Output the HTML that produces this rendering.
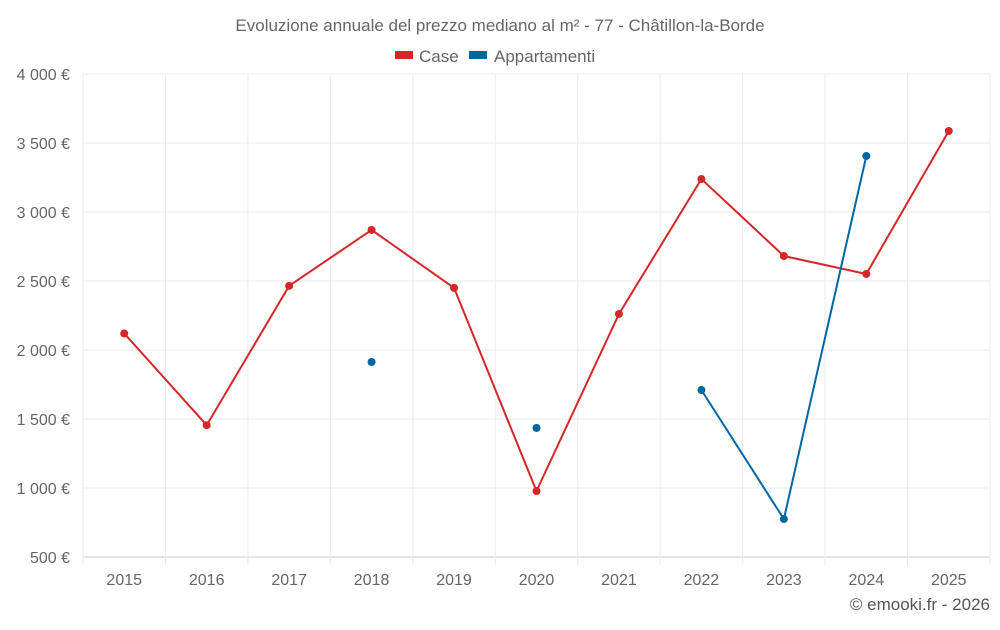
<!DOCTYPE html>
<html><head><meta charset="utf-8"><style>
body{margin:0;background:#fff;font-family:"Liberation Sans",sans-serif;}
svg text{font-family:"Liberation Sans",sans-serif;}
</style></head><body>
<svg id="chart" width="1000" height="625" xmlns="http://www.w3.org/2000/svg">
<text x="500" y="31" text-anchor="middle" font-size="17" fill="#666">Evoluzione annuale del prezzo mediano al m² - 77 - Châtillon-la-Borde</text>
<g>
<rect x="395" y="51" width="18" height="8" fill="#d62728"/>
<text x="419" y="62" font-size="17" fill="#666">Case</text>
<rect x="469" y="51" width="18" height="8" fill="#0066a0"/>
<text x="494" y="62" font-size="17" fill="#666">Appartamenti</text>
</g>
<g id="grid"></g><g id="axes"></g><g id="series"></g>
<text x="990" y="610" text-anchor="end" font-size="17" fill="#555">© emooki.fr - 2026</text>
</svg>
<script>
const years=[2015,2016,2017,2018,2019,2020,2021,2022,2023,2024,2025];
const caseValues=[2120,1455,2465,2870,2450,978,2261,3239,2681,2551,3587];
const apptValues=[null,null,null,1913,null,1435,null,1710,775,3406,null];
const yTicks=[500,1000,1500,2000,2500,3000,3500,4000];
const NS="http://www.w3.org/2000/svg";
const L=83,R=990,T=74,B=557,yMin=500,yMax=4000;
const step=(R-L)/years.length;
const x=i=>L+step*(i+0.5);
const y=v=>B-(v-yMin)/(yMax-yMin)*(B-T);
function mk(t,a,p){const e=document.createElementNS(NS,t);for(const k in a)e.setAttribute(k,a[k]);p.appendChild(e);return e;}
const grid=document.getElementById('grid'),axes=document.getElementById('axes'),ser=document.getElementById('series');
yTicks.forEach(v=>{
 const l=mk('line',{x1:L,x2:R,y1:y(v),y2:y(v),stroke:v===yMin?'#ccc':'#ebebeb'},grid);
 
 
 const t=mk('text',{x:70,y:y(v)+6,'text-anchor':'end','font-size':16,fill:'#666'},axes);
 t.textContent=v.toLocaleString('fr-FR').replace(/\s/g,' ')+' €';
 
 
});
for(let i=0;i<=years.length;i++){
 const l=mk('line',{x1:L+step*i,x2:L+step*i,y1:T,y2:B+8,stroke:'#ebebeb'},grid);
 
 
}
years.forEach((yr,i)=>{
 const t=mk('text',{x:x(i),y:585,'text-anchor':'middle','font-size':16,fill:'#666'},axes);
 t.textContent=yr;
 
 
});
function drawSeries(vals,color,name){
 let seg=[];const segs=[];
 vals.forEach((v,i)=>{if(v==null){if(seg.length)segs.push(seg);seg=[];}else seg.push([x(i),y(v)]);});
 if(seg.length)segs.push(seg);
 segs.forEach(s=>{if(s.length>1){
  const p=mk('polyline',{points:s.map(q=>q.join(',')).join(' '),fill:'none',stroke:color,'stroke-width':2},ser);
  
  
 }});
 vals.forEach((v,i)=>{if(v!=null){
  const c=mk('circle',{cx:x(i),cy:y(v),r:4,fill:color},ser);
  
  
 }});
}
drawSeries(caseValues,'#d62728','case');
drawSeries(apptValues,'#0066a0','appartamenti');
</script>
</body></html>
